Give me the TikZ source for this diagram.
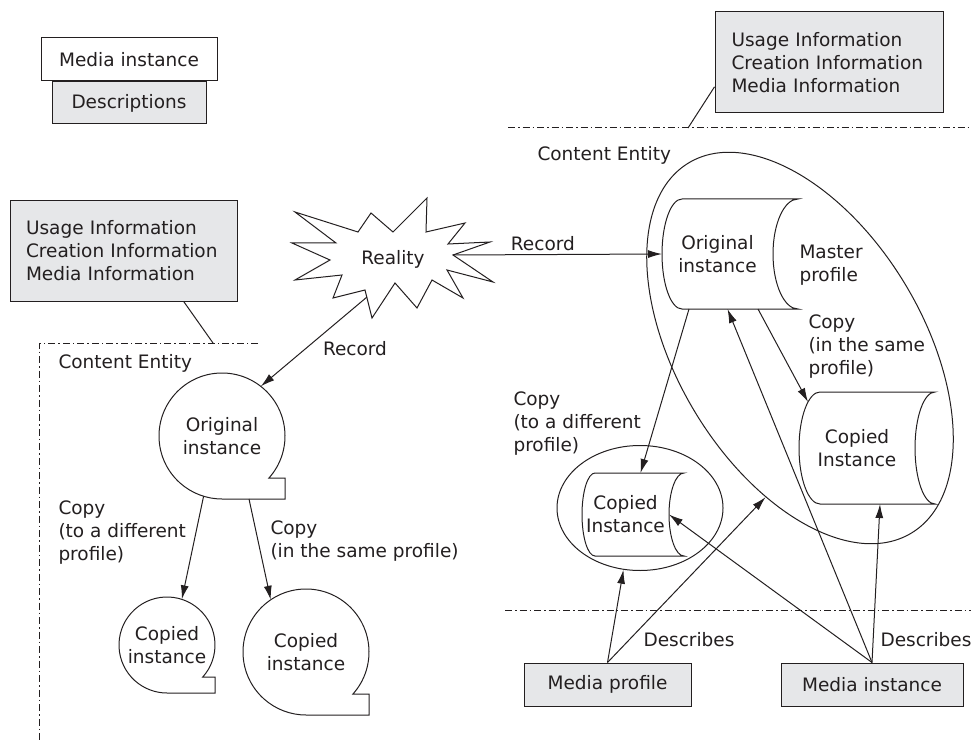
\documentclass[tikz,border=0pt]{standalone}
\usepackage{fontspec}
\setmainfont{DejaVu Sans}
\usetikzlibrary{shapes, arrows.meta, positioning}
\definecolor{boxgray}{RGB}{230,231,233}
\definecolor{ink}{RGB}{35,31,32}

\begin{document}
\begin{tikzpicture}[x=1pt, y=-1pt, >={Latex[length=14pt,width=8pt]}, line width=1pt, color=ink, font=\fontsize{18.5}{23}\selectfont]
    \tikzstyle{info} = [rectangle, draw, fill=boxgray, align=left, text width=195pt, inner xsep=16pt, minimum height=100pt]
    \tikzstyle{tag} = [rectangle, draw, fill=boxgray, minimum height=43pt, inner sep=0pt]
    \tikzstyle{bubble} = [circle, align=center, inner sep=0pt, outer sep=0pt]
    \tikzstyle{stored} = [rectangle, align=center, inner sep=0pt, outer sep=0pt]
    \tikzstyle{profile} = [ellipse, draw]
    \tikzstyle{fence} = [dash pattern=on 7pt off 3pt on 1.5pt off 3pt]
    \tikzstyle{note} = [align=left, anchor=west, inner sep=0pt]

    \useasboundingbox (0,0) rectangle (971,743);

    \node [tag, fill=white, minimum width=176pt] (legmedia) at (129,59.5) {Media instance};
    \node [tag, minimum width=154pt, minimum height=42pt, below=0pt of legmedia] (legdesc) {Descriptions};

    \node [info, minimum width=228pt, minimum height=101pt] (infoR) at (829,62.5) {Usage Information\\Creation Information\\Media Information};
    \node [info, minimum width=227pt] (infoL) at (123.5,251) {Usage Information\\Creation Information\\Media Information};
    \coordinate (tickR) at (688,128);
    \coordinate (tickL) at (213,343);
    \draw (infoR.192) -- (tickR);
    \draw (infoL.-40) -- (tickL);
    \draw [fence] (508,128) -- (971,128);
    \draw [fence] (258,343) -- (39,343) -- (39,743);
    \draw [fence] (505,610) -- (971,610);
    \node [note] (entityR) at (537,155) {Content Entity};
    \node [note] (entityL) at (58,363) {Content Entity};

    \node (reality) at (393,259) {Reality};
    \draw (295,212) -- (358,232) -- (371,213) -- (393,232) -- (427,198) -- (426,232) -- (465,223) -- (448,244)
        -- (490,242) -- (453,255) -- (493,282) -- (447,270) -- (463,298) -- (432,280) -- (417,308) -- (395,283)
        -- (372,318) -- (365,290) -- (333,298) -- (342,275) -- (295,280) -- (330,260) -- (292,243) -- (336,243) -- cycle;
    \coordinate (realR) at (453,255);
    \coordinate (realB) at (367,297);

    \node [bubble, minimum size=126pt] (origL) at (222,436) {Original\\instance};
    \node [bubble, minimum size=96pt] (copyLa) at (167,645) {Copied\\instance};
    \node [bubble, minimum size=126pt] (copyLb) at (306,652) {Copied\\instance};
    \foreach \n/\r in {origL/63, copyLa/48, copyLb/63}
        \draw (\n.-42) arc [start angle=-42, end angle=270, radius=\r pt]
            -- (\n.south -| \n.east) -- (\n.east |- \n.-42) -- cycle;

    \draw [->] (realB) -- node [pos=0.45, anchor=north west] {Record} (origL.52);
    \draw [->] (origL.-107) -- (copyLa.72);
    \draw [->] ([xshift=27pt]origL.south) -- (copyLb.124);
    \node [note] (copyLtxt) at (58,533) {Copy\\(to a different\\profile)};
    \node [note] (copySLtxt) at (270,541) {Copy\\(in the same profile)};

    \node [profile, minimum width=432pt, minimum height=246pt, rotate=-59] (profM) at (800,348) {};
    \node [profile, minimum width=166pt, minimum height=125pt] (profC) at (640,508) {};
    \node [stored, minimum width=111pt, minimum height=110pt] (origR) at (717.5,254) {Original\\instance};
    \node [stored, minimum width=116pt, minimum height=112pt] (copyRa) at (857,448) {Copied\\Instance};
    \node [stored, minimum width=87pt, minimum height=83pt] (copyRb) at (625.5,514.5) {Copied\\Instance};
    \foreach \n/\l/\r/\h in {origR/20/25/55, copyRa/21/20/56, copyRb/13/15/41.5}
        \draw ([xshift=\l pt]\n.north west) -- ([xshift=\r pt]\n.north east)
            arc [start angle=90, end angle=270, x radius=\r pt, y radius=\h pt]
            -- ([xshift=\l pt]\n.south west)
            arc [start angle=270, end angle=90, x radius=\l pt, y radius=\h pt];
    \node [note] (mastertxt) at (799,265) {Master\\profile};

    \draw [->] (realR) -- node [above, pos=0.43] {Record} (origR.west);
    \draw [->] ([xshift=27pt]origR.south west) -- ([xshift=15pt]copyRb.north);
    \draw [->] ([xshift=-15pt]origR.south east) -- ([shift={(9,10)}]copyRa.north west);
    \node [note] (copyRtxt) at (513,424) {Copy\\(to a different\\profile)};
    \node [note] (copySRtxt) at (808,347) {Copy\\(in the same\\profile)};

    \node [tag, minimum width=167pt] (mprof) at (607.5,684.5) {Media profile};
    \node [tag, minimum width=182pt] (minst) at (872,684.5) {Media instance};
    \draw [->] (mprof.north) -- (profC.-105);
    \draw [->] (mprof.north) -- (profM.-44);
    \draw [->] (minst.north) -- (copyRb.east);
    \draw [->] (minst.north) -- ([xshift=10pt]origR.south);
    \draw [->] (minst.north) -- ([xshift=23pt]copyRa.south);
    \node (descP) at (689,640) {Describes};
    \node (descI) at (926,640) {Describes};
\end{tikzpicture}
\end{document}
